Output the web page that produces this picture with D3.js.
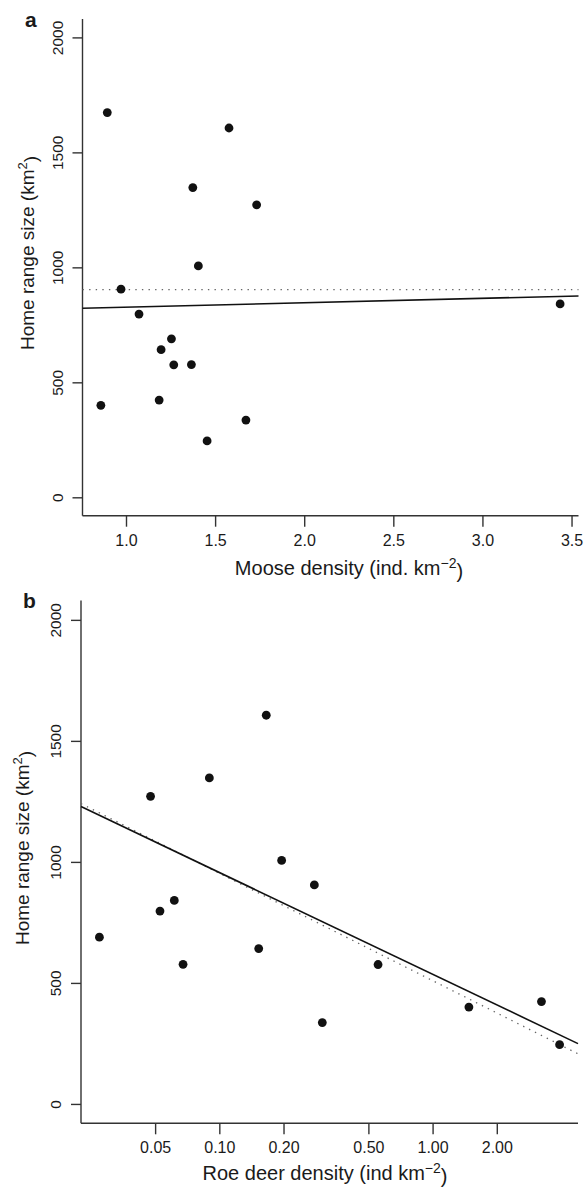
<!DOCTYPE html>
<html>
<head>
<meta charset="UTF-8">
<title>Home range size vs density</title>
<script src="https://d3js.org/d3.v7.min.js"></script>
<style>
  body { margin: 0; background: #fff; font-family: "Liberation Sans", Arial, Helvetica, sans-serif; }
  svg text { fill: #1a1a1a; }
  .axis path, .axis line { stroke: #333; stroke-width: 1.4px; }
  .axis text { font-size: 15.5px; font-family: "Liberation Sans", Arial, sans-serif; }
</style>
</head>
<body>
<svg id="chart" width="587" height="1189"></svg>
<script>
// panel a: moose density (ind. km-2) vs home range (km2)
const mooseDensity = [0.895, 1.578, 1.375, 1.733, 1.406, 0.972, 1.073, 1.255, 1.197, 1.268, 1.367, 0.859, 1.186, 1.673, 1.455, 3.436];
const homeRangeA   = [1673, 1606, 1347, 1272, 1006, 905, 797, 689, 642, 576, 577, 400, 423, 336, 245, 841];

// panel b: roe deer density (ind km-2), log axis
const roeDensity = [0.0476, 0.0898, 0.166, 0.196, 0.279, 0.0274, 0.0527, 0.0615, 0.0676, 0.153, 0.304, 0.555, 1.48, 3.24, 3.94];
const homeRangeB = [1271, 1347, 1606, 1006, 905, 689, 797, 841, 577, 642, 336, 576, 400, 423, 245];

const yTicks     = [0, 500, 1000, 1500, 2000];
const mooseTicks = [1.0, 1.5, 2.0, 2.5, 3.0, 3.5];
const roeTicks   = [0.05, 0.10, 0.20, 0.50, 1.00, 2.00];

// fitted lines as [intercept, slope]; panel b is on log10(density)
const solidA  = [807.4, 19.3];
const dottedA = [903, 0];
const solidB  = [535.8, -420.4];
const dottedB = [509.5, -443.6];

const svg = d3.select("#chart");

// R-style 4% axis extension
function pad(ext) {
    const d = (ext[1] - ext[0]) * 0.04;
    return [ext[0] - d, ext[1] + d];
}

function drawPanel(o) {
    const g = svg.append("g");
    const x = o.x, y = o.y;

    // y axis
    const ya = g.append("g").attr("class", "axis")
        .attr("transform", `translate(${x.range()[0]},0)`)
        .call(d3.axisLeft(y).tickValues(yTicks).tickSize(10).tickSizeOuter(0).tickFormat(d3.format("d")));
    ya.selectAll("text")
        .attr("transform", "rotate(-90)")
        .attr("x", 0).attr("y", -o.yLabOff).attr("dy", 0)
        .attr("text-anchor", "middle");

    // x axis
    const xa = g.append("g").attr("class", "axis")
        .attr("transform", `translate(0,${y.range()[0]})`)
        .call(d3.axisBottom(x).tickValues(o.ticks).tickSize(11).tickSizeOuter(0).tickFormat(o.fmt));
    xa.selectAll("text").attr("y", 30).attr("dy", 0).style("font-size", "16px");
    xa.select(".domain").attr("d", `M${x.range()[0]},0H${x.range()[1]}`);
    ya.select(".domain").attr("d", `M0,${y.range()[0]}V${y.range()[1]}`);

    // fit lines across the plot region
    const xd = x.domain();
    const tf = o.logX ? Math.log10 : (v => v);
    [[o.dotted, "#666", "1.4,5.2", 1.3], [o.solid, "#111", null, 1.6]].forEach(([c, col, dash, w]) => {
        const pts = xd.map(v => ({ v: c[0] + c[1] * tf(v), x: v }));
        g.append("line")
            .attr("x1", x(pts[0].x)).attr("y1", y(pts[0].v))
            .attr("x2", x(pts[1].x)).attr("y2", y(pts[1].v))
            .attr("stroke", col).attr("stroke-width", w)
            .attr("stroke-dasharray", dash);
    });

    // points
    g.append("g").selectAll("circle")
        .data(o.xs.map((v, i) => [v, o.ys[i]]))
        .join("circle")
        .attr("cx", d => x(d[0]))
        .attr("cy", d => y(d[1]))
        .attr("r", 4.4)
        .attr("fill", "#111");

    // panel letter
    g.append("text")
        .attr("x", o.letterPos[0]).attr("y", o.letterPos[1])
        .style("font-size", "21px").style("font-weight", "bold")
        .text(o.letter);

    // x title
    const xt = g.append("text")
        .attr("x", o.xTitlePos[0]).attr("y", o.xTitlePos[1])
        .attr("text-anchor", "middle")
        .style("font-size", "20px");
    xt.append("tspan").text(o.xTitle);
    xt.append("tspan").attr("dy", "-0.5em").style("font-size", "14px").text("\u22122");
    xt.append("tspan").attr("dy", "0.5em").text(")");

    // y title
    const yt = g.append("text")
        .attr("transform", `translate(${o.yTitlePos[0]},${o.yTitlePos[1]}) rotate(-90)`)
        .attr("text-anchor", "middle")
        .style("font-size", "19px");
    yt.append("tspan").text("Home range size (km");
    yt.append("tspan").attr("dy", "-0.5em").style("font-size", "13px").text("2");
    yt.append("tspan").attr("dy", "0.5em").text(")");
}

const yDom = pad([0, 2000]);

drawPanel({
    letter: "a",
    x: d3.scaleLinear().domain(pad(d3.extent(mooseDensity))).range([82.5, 578.5]),
    y: d3.scaleLinear().domain(yDom).range([515.7, 19]),
    xs: mooseDensity, ys: homeRangeA,
    ticks: mooseTicks, fmt: d3.format(".1f"),
    solid: solidA, dotted: dottedA, logX: false,
    yLabOff: 19.5,
    letterPos: [25, 27],
    xTitle: "Moose density (ind. km",
    xTitlePos: [349, 575],
    yTitlePos: [33.5, 253]
});

const roeLog = pad(d3.extent(roeDensity).map(Math.log10)).map(v => Math.pow(10, v));
drawPanel({
    letter: "b",
    x: d3.scaleLog().domain(roeLog).range([81, 578]),
    y: d3.scaleLinear().domain(yDom).range([1123.3, 600.5]),
    xs: roeDensity, ys: homeRangeB,
    ticks: roeTicks, fmt: d3.format(".2f"),
    solid: solidB, dotted: dottedB, logX: true,
    yLabOff: 20,
    letterPos: [23, 608],
    xTitle: "Roe deer density (ind km",
    xTitlePos: [325, 1180],
    yTitlePos: [28.5, 848]
});
</script>
</body>
</html>
